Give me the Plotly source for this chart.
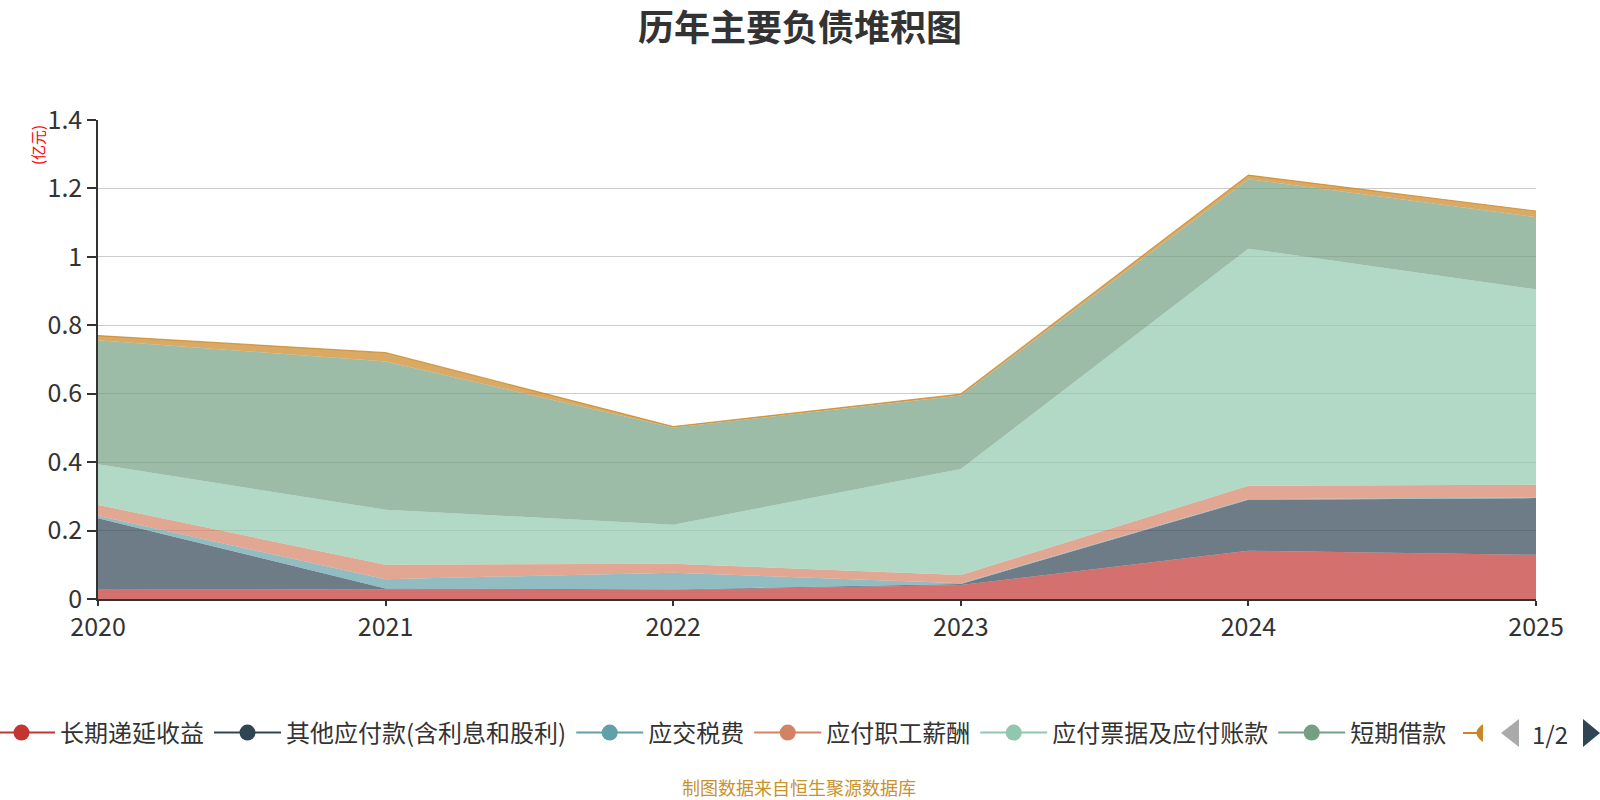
import plotly.graph_objects as go

years = [2020, 2021, 2022, 2023, 2024, 2025]
year_labels = ["2020", "2021", "2022", "2023", "2024", "2025"]

names = ["长期递延收益", "其他应付款(含利息和股利)", "应交税费", "应付职工薪酬",
         "应付票据及应付账款", "短期借款", "合同负债"]
v_deferred = [0.029, 0.028, 0.026, 0.041, 0.141, 0.129]
v_other_pay = [0.207, 0.003, 0.002, 0.003, 0.149, 0.166]
v_tax = [0.007, 0.027, 0.049, 0.002, 0.002, 0.002]
v_salary = [0.032, 0.042, 0.026, 0.024, 0.039, 0.037]
v_notes = [0.119, 0.161, 0.114, 0.310, 0.693, 0.571]
v_short = [0.362, 0.433, 0.284, 0.215, 0.203, 0.211]
v_contract = [0.014, 0.026, 0.003, 0.004, 0.012, 0.018]
series = [v_deferred, v_other_pay, v_tax, v_salary, v_notes, v_short, v_contract]

colors = ["#c23531", "#2f4554", "#61a0a8", "#d48265", "#91c7ae", "#749f83", "#ca8622"]


def rgba(h, a):
    h = h.lstrip("#")
    return "rgba(%d,%d,%d,%s)" % (int(h[0:2], 16), int(h[2:4], 16), int(h[4:6], 16), a)


FONT = "Noto Sans CJK SC, Microsoft YaHei, sans-serif"
W, H = 1600, 800
L, R, T, B = 98, 64, 120, 201
PW, PH = W - L - R, H - T - B


def px_x(px):
    return (px - L) / PW


def px_y(py):
    return (H - B - py) / PH


fig = go.Figure()
for i, (nm, vals, c) in enumerate(zip(names, series, colors)):
    last = i == len(names) - 1
    fig.add_trace(go.Scatter(
        x=years, y=vals, name=nm, stackgroup="one", mode="lines",
        line=dict(width=1.2 if last else 0, color=rgba(c, 0.75) if last else c),
        fillcolor=rgba(c, 0.7), showlegend=False, hoverinfo="x+y+name"))

# legend entries (first page of the paged legend)
for nm, c in zip(names[:6], colors[:6]):
    fig.add_trace(go.Scatter(
        x=[None], y=[None], name=nm, mode="lines+markers",
        line=dict(color=c, width=2), marker=dict(color=c, size=16),
        showlegend=True))

annotations = [
    dict(text="(亿元)", x=px_x(37), y=px_y(145), xref="paper", yref="paper",
         xanchor="center", yanchor="middle",
         showarrow=False, textangle=-90, font=dict(size=15, color="red", family=FONT)),
    dict(text="制图数据来自恒生聚源数据库", x=px_x(799), y=px_y(787), xref="paper", yref="paper",
         xanchor="center", yanchor="middle",
         showarrow=False, font=dict(size=18, color="#c8922c", family=FONT)),
    dict(text="1/2", x=px_x(1550), y=px_y(733), xref="paper", yref="paper",
         xanchor="center", yanchor="middle",
         showarrow=False, font=dict(size=24, color="#333", family=FONT)),
]

shapes = [
    # pager arrows
    dict(type="path", xref="paper", yref="paper", fillcolor="#aaaaaa", line=dict(width=0),
         path="M %f %f L %f %f L %f %f Z" % (px_x(1519), px_y(719), px_x(1501), px_y(733),
                                             px_x(1519), px_y(747))),
    dict(type="path", xref="paper", yref="paper", fillcolor="#2f4554", line=dict(width=0),
         path="M %f %f L %f %f L %f %f Z" % (px_x(1583), px_y(719), px_x(1600), px_y(733),
                                             px_x(1583), px_y(747))),
    # partially visible 7th legend icon
    dict(type="line", xref="paper", yref="paper", line=dict(color="#ca8622", width=2),
         x0=px_x(1463), x1=px_x(1478), y0=px_y(733), y1=px_y(733)),
    dict(type="path", xref="paper", yref="paper", fillcolor="#ca8622", line=dict(width=0),
         path="M %f %f Q %f %f %f %f Z" % (px_x(1483), px_y(724), px_x(1470), px_y(733),
                                           px_x(1483), px_y(742))),
]

fig.update_layout(
    width=W, height=H,
    margin=dict(l=L, r=R, t=T, b=B, autoexpand=False),
    paper_bgcolor="white", plot_bgcolor="white",
    font=dict(family=FONT, color="#333"),
    title=dict(text="<b>历年主要负债堆积图</b>", x=0.5, xanchor="center",
               y=1 - 28 / H, yanchor="middle", font=dict(size=36, color="#333", family=FONT)),
    xaxis=dict(range=[2020, 2025], tickmode="array", tickvals=years, ticktext=year_labels,
               showgrid=False, showline=True, linecolor="#333", linewidth=1.5,
               ticks="outside", ticklen=5, tickcolor="#333", tickwidth=1.5, automargin=False,
               tickfont=dict(size=25, color="#333"), zeroline=False),
    yaxis=dict(range=[0, 1.4], dtick=0.2, showgrid=True, gridcolor="#cccccc", gridwidth=1.2,
               showline=True, linecolor="#333", linewidth=1.5, automargin=False,
               ticks="outside", ticklen=9, tickcolor="#333", tickwidth=1.5,
               tickfont=dict(size=25, color="#333"), zeroline=False),
    legend=dict(orientation="h", xref="paper", yref="paper",
                x=px_x(-17), xanchor="left", y=px_y(733), yanchor="middle",
                traceorder="normal",
                font=dict(size=24, color="#333", family=FONT), itemwidth=67,
                bgcolor="rgba(0,0,0,0)"),
    annotations=annotations, shapes=shapes,
    showlegend=True,
)

fig.write_html("out.html")
